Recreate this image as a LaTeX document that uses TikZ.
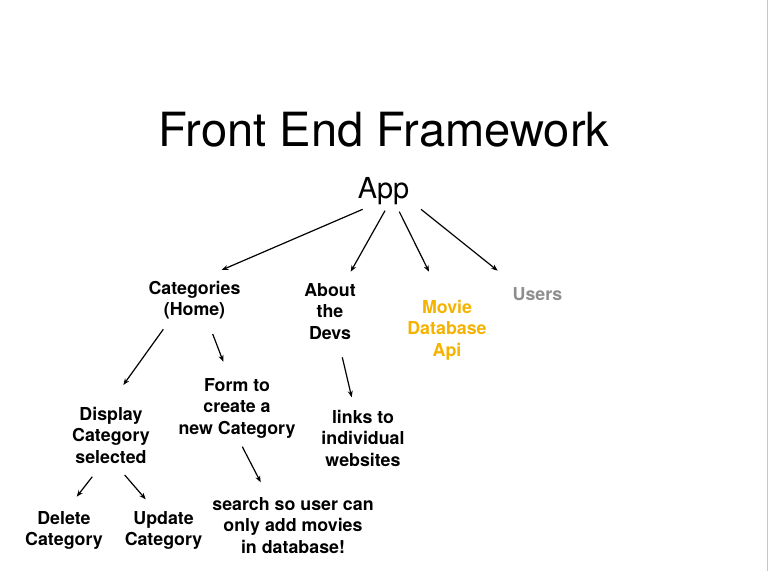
\documentclass[tikz,border=0pt]{standalone}
\usepackage{fontspec}
\setmainfont{TeX Gyre Heros}
\usetikzlibrary{arrows.meta}
\definecolor{movie}{HTML}{F5B300}
\definecolor{usergrey}{HTML}{8E8E8E}
\newcommand\mlines[1]{\begin{tabular}[t]{@{}c@{}}#1\end{tabular}}
\begin{document}
\begin{tikzpicture}[x=1pt,y=-1pt,
  lbl/.style={anchor=base, inner sep=0pt, font=\fontsize{17.8}{21.5}\selectfont\bfseries},
  arr/.style={-{Stealth[length=6.5pt,width=5pt]}, line width=1.2pt}]
\fill[white] (0,0) rectangle (769,571);
\useasboundingbox (0,0) rectangle (769,571);
\draw[black!22, line width=1.5pt] (767.6,0) -- (767.6,571);

\node[font=\fontsize{47.1}{50}\selectfont, anchor=base, inner sep=0pt] (title) at (384,146) {Front End Framework};
\node[font=\fontsize{28.9}{32}\selectfont, anchor=base, inner sep=0pt] (app) at (383.5,198) {App};

\node[lbl] (cat) at (194.5,294) {\mlines{Categories\\(Home)}};
\node[lbl] (dev) at (330,296) {\mlines{About\\the\\Devs}};
\node[lbl, text=movie] (mdb) at (447,313) {\mlines{Movie\\Database\\Api}};
\node[lbl, text=usergrey] (usr) at (537.5,300) {Users};
\node[lbl] (form) at (237,391) {\mlines{Form to\\create a\\new Category}};
\node[lbl] (disp) at (111,420) {\mlines{Display\\Category\\selected}};
\node[lbl] (links) at (363,423) {\mlines{links to\\individual\\websites}};
\node[lbl] (del) at (64,524) {\mlines{Delete\\Category}};
\node[lbl] (upd) at (163.5,524) {\mlines{Update\\Category}};
\node[lbl] (srch) at (293,510) {\mlines{search so user can\\only add movies\\in database!}};

% connector end points
\coordinate (appA) at (362.7,209.3);
\coordinate (catIn) at (221.7,270);
\coordinate (appB) at (385,210.7);
\coordinate (devIn) at (350.7,271.7);
\coordinate (appC) at (399.3,211.7);
\coordinate (mdbIn) at (429,271.7);
\coordinate (appD) at (421,209.3);
\coordinate (usrIn) at (497.7,270.7);
\coordinate (catA) at (163.3,329.3);
\coordinate (dispIn) at (123.3,385);
\coordinate (catB) at (212.7,334);
\coordinate (formIn) at (223.3,361.7);
\coordinate (devA) at (342.3,357.3);
\coordinate (linksIn) at (351.7,397.3);
\coordinate (formA) at (242.3,446.7);
\coordinate (srchIn) at (260.7,482.3);
\coordinate (dispA) at (92.3,476.7);
\coordinate (delIn) at (76.7,496.7);
\coordinate (dispB) at (124.7,475);
\coordinate (updIn) at (145.7,499.3);

\draw[arr] (appA) -- (catIn);
\draw[arr] (appB) -- (devIn);
\draw[arr] (appC) -- (mdbIn);
\draw[arr] (appD) -- (usrIn);
\draw[arr] (catA) -- (dispIn);
\draw[arr] (catB) -- (formIn);
\draw[arr] (devA) -- (linksIn);
\draw[arr] (formA) -- (srchIn);
\draw[arr] (dispA) -- (delIn);
\draw[arr] (dispB) -- (updIn);
\end{tikzpicture}
\end{document}
